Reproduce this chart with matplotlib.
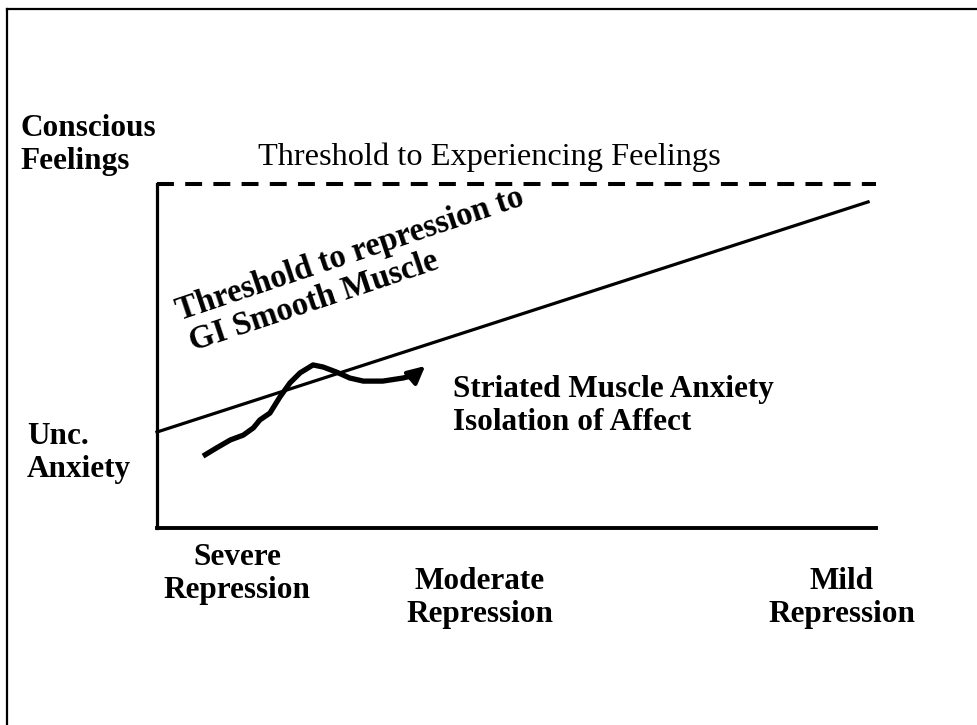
import matplotlib.pyplot as plt

W, H = 978, 725

# repression levels along the bottom (0 = severe, 1 = mild)
levels = ["Severe\nRepression", "Moderate\nRepression", "Mild\nRepression"]

# threshold line to GI smooth muscle (axes units)
thresh_x = [0.0, 0.989]
thresh_y = [0.279, 0.948]

# hand drawn anxiety curve with arrow
curve_x = [0.064, 0.083, 0.102, 0.120, 0.134, 0.143, 0.157, 0.171, 0.185, 0.199,
           0.217, 0.231, 0.250, 0.268, 0.287, 0.314, 0.342, 0.358]
curve_y = [0.209, 0.233, 0.256, 0.270, 0.291, 0.314, 0.334, 0.381, 0.422, 0.451,
           0.474, 0.468, 0.453, 0.436, 0.427, 0.427, 0.436, 0.444]
arrow_tip = (0.373, 0.471)

plt.rcParams['font.family'] = ['Liberation Serif', 'DejaVu Serif']

fig = plt.figure(figsize=(W / 100, H / 100), dpi=100)


def fx(px):
    return px / W


def fy(py):
    return 1 - py / H


# frame (only left/top edges are visible in the original)
fig.add_artist(plt.Line2D([fx(7), fx(7)], [fy(9), 0], color='black', lw=1.6))
fig.add_artist(plt.Line2D([fx(7), 1], [fy(9), fy(9)], color='black', lw=1.6))

ax = fig.add_axes([fx(157), fy(528), fx(876) - fx(157), fy(184) - fy(528)])
ax.set_xlim(0, 1)
ax.set_ylim(0, 1)
for s in ['top', 'right']:
    ax.spines[s].set_visible(False)
ax.spines['left'].set_linewidth(2.3)
ax.spines['bottom'].set_linewidth(2.8)
ax.set_xticks([])
ax.set_yticks([])

# threshold to experiencing feelings
ax.plot([0, 1], [1, 1], color='black', lw=2.9, ls=(0, (4.2, 2.8)), clip_on=False,
        solid_capstyle='butt')
ax.plot(thresh_x, thresh_y, color='black', lw=2.3, clip_on=False)
ax.plot(curve_x, curve_y, color='black', lw=3.8, solid_capstyle='butt', clip_on=False)
ax.annotate('', xy=arrow_tip, xytext=(curve_x[-1], curve_y[-1]),
            arrowprops=dict(arrowstyle='-|>,head_length=0.8,head_width=0.4',
                            color='black', lw=3.0, mutation_scale=13,
                            shrinkA=0, shrinkB=0))

bold = dict(fontsize=22.5, fontweight='bold', color='black')
fig.text(fx(20), fy(169), "Conscious\nFeelings", ha='left', va='baseline', **bold)
fig.text(fx(258), fy(165), "Threshold to Experiencing Feelings", ha='left',
         va='baseline', fontsize=23.3, color='black')
fig.text(fx(180), fy(320), "Threshold to repression to", rotation=18.5,
         rotation_mode='anchor', ha='left', va='baseline', fontsize=23.5,
         fontweight='bold', color='black')
fig.text(fx(193), fy(351), "GI Smooth Muscle", rotation=18.5,
         rotation_mode='anchor', ha='left', va='baseline', fontsize=23.5,
         fontweight='bold', color='black')
fig.text(fx(453), fy(430), "Striated Muscle Anxiety\nIsolation of Affect",
         ha='left', va='baseline', **bold)
fig.text(fx(27), fy(477), "Unc.\nAnxiety", ha='left', va='baseline', **bold)

label_x = [237, 480, 842]
label_top = [543, 567, 567]
for lab, lx, ly in zip(levels, label_x, label_top):
    fig.text(fx(lx), fy(ly), lab, ha='center', va='top', **bold)

fig.savefig('out.png', dpi=100)
